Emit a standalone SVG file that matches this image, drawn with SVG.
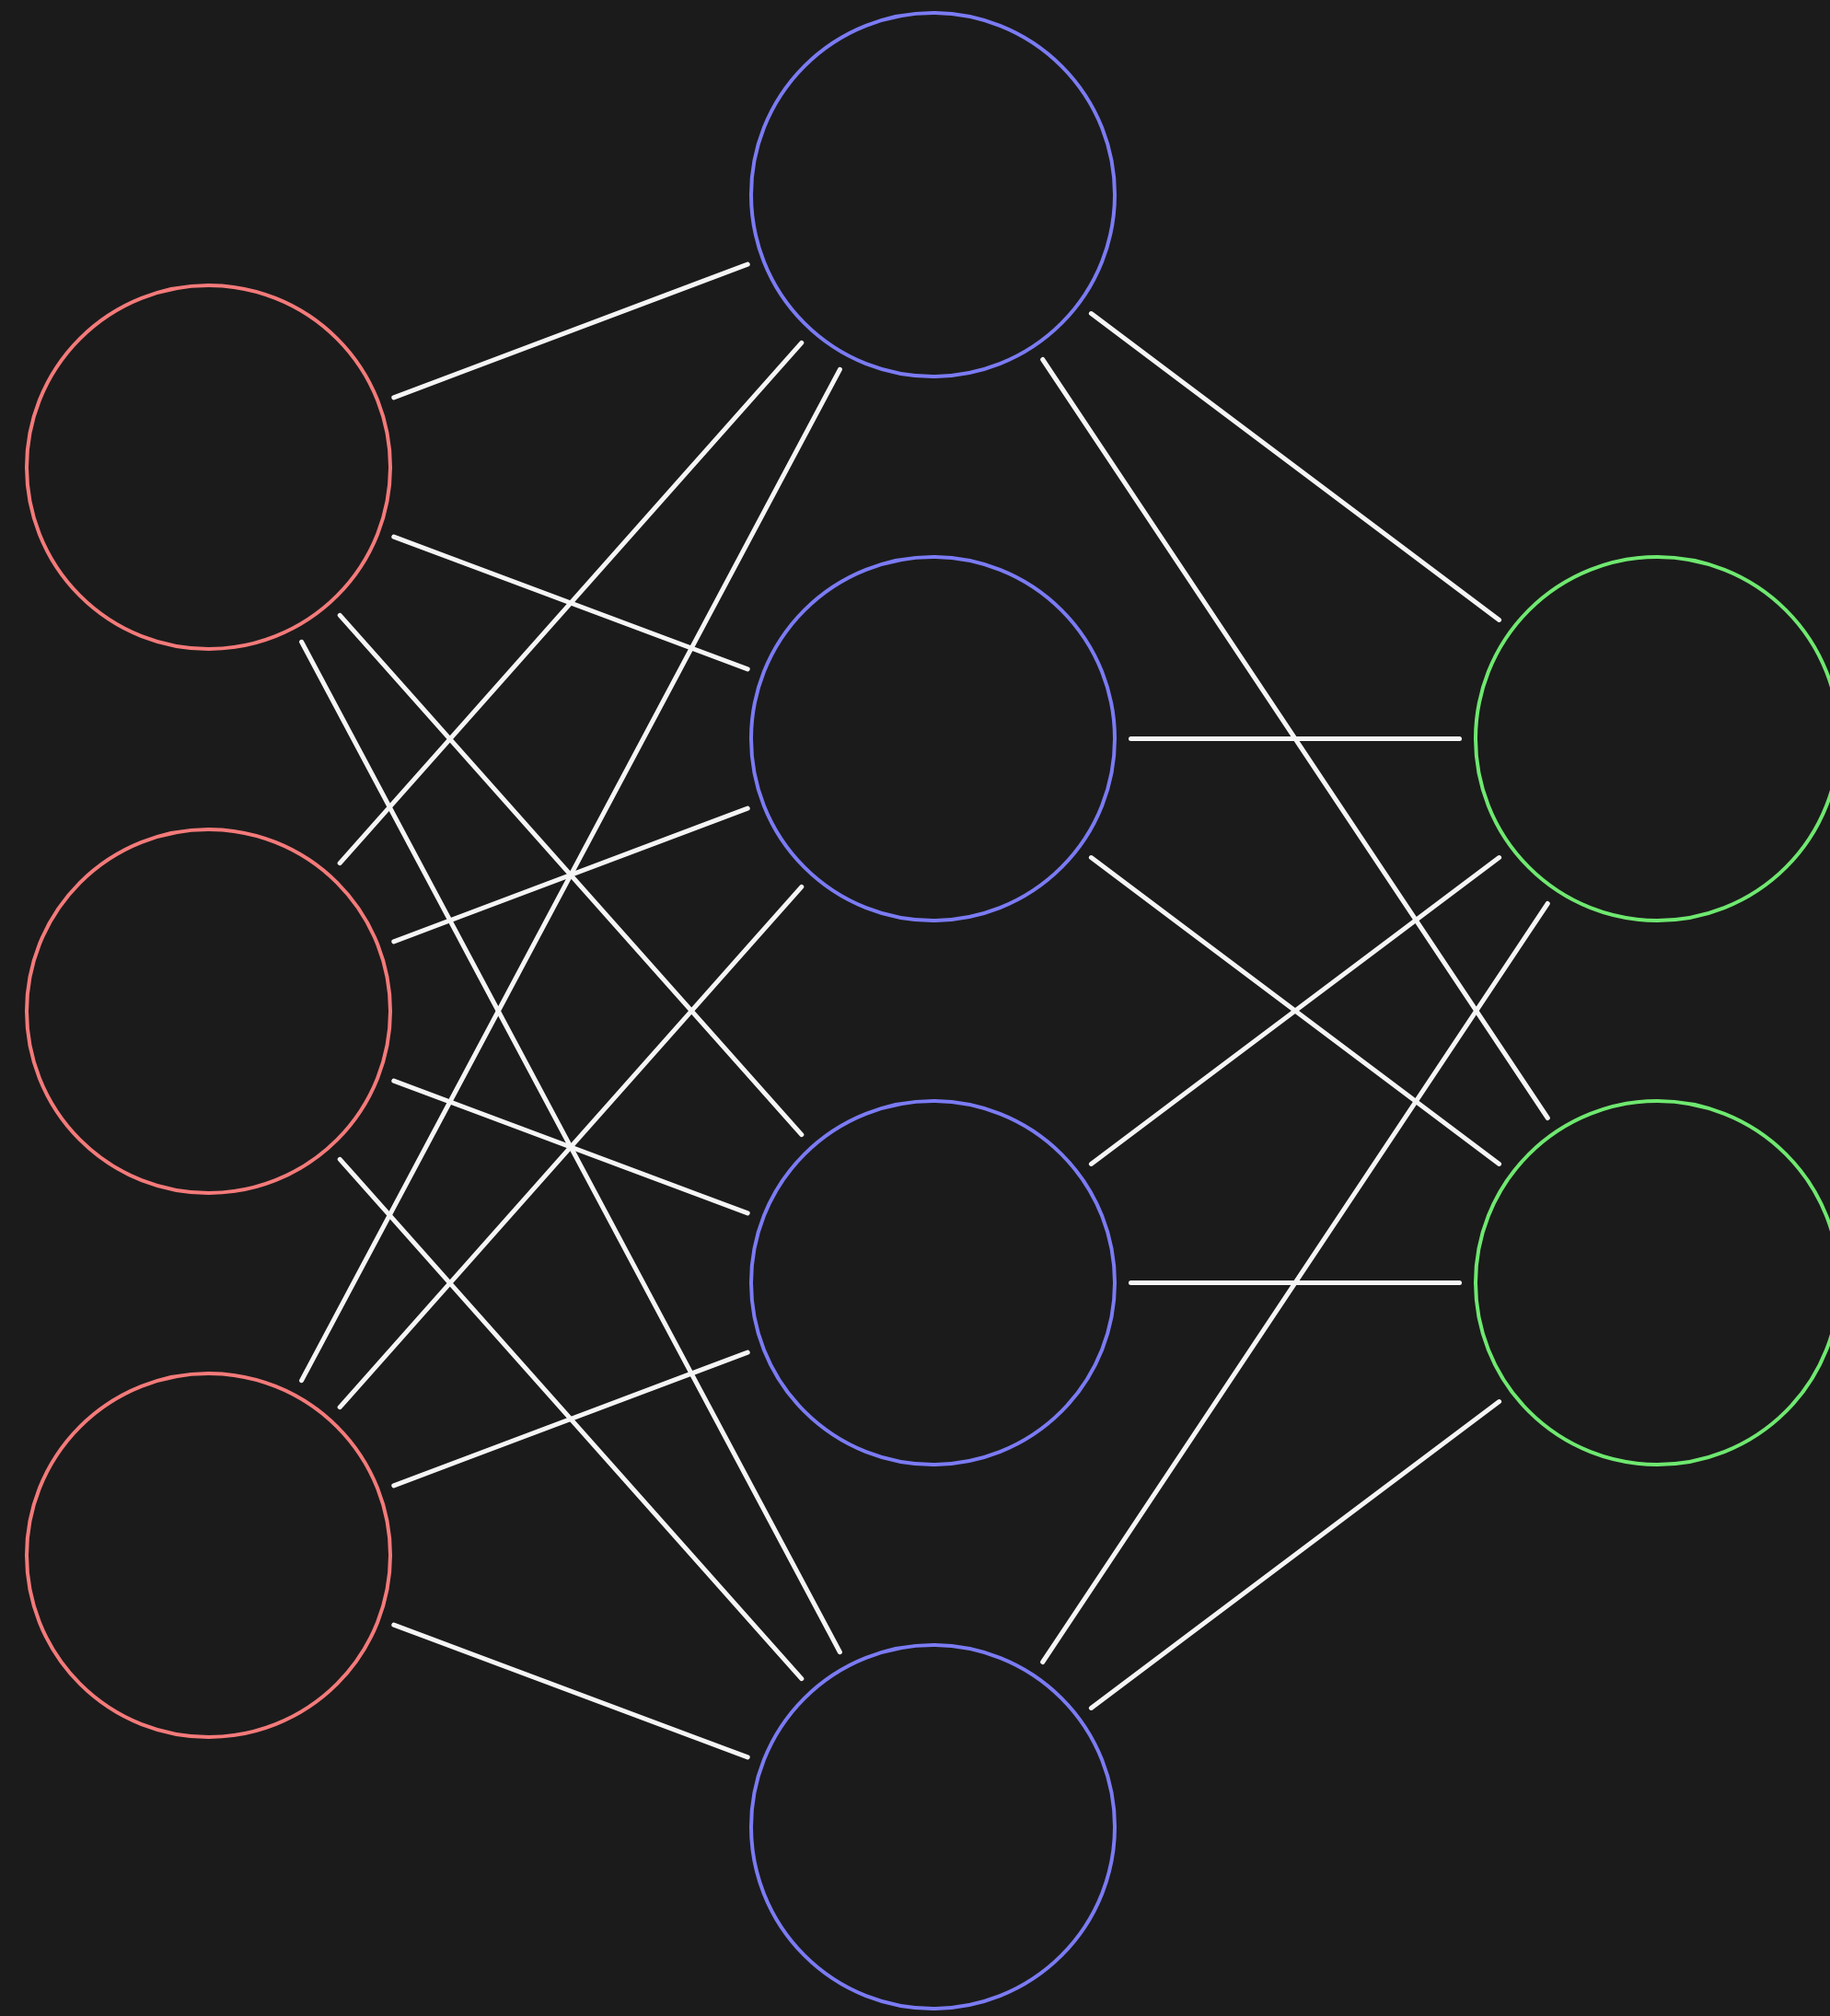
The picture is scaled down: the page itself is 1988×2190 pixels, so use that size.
<svg xmlns="http://www.w3.org/2000/svg" width="1988" height="2190" viewBox="0 0 1988 2190">
<style>
.n{fill:#1b1b1b;stroke-width:4}
.in{stroke:#f47a7a}
.hid{stroke:#7b7bf4}
.out{stroke:#6fe870}
#edges line{stroke:#f5f5f5;stroke-width:5;stroke-linecap:round}
</style>
<rect width="1988" height="2190" fill="#1b1b1b"/>
<g id="edges">
<line x1="427.8" y1="431.9" x2="812.2" y2="287.1"/>
<line x1="427.8" y1="583.1" x2="812.2" y2="726.9"/>
<line x1="369.2" y1="668.3" x2="870.8" y2="1232.7"/>
<line x1="327.6" y1="697.3" x2="912.4" y2="1794.7"/>
<line x1="369.2" y1="937.7" x2="870.8" y2="372.3"/>
<line x1="427.8" y1="1022.9" x2="812.2" y2="878.1"/>
<line x1="427.8" y1="1174.1" x2="812.2" y2="1317.9"/>
<line x1="369.2" y1="1259.3" x2="870.8" y2="1823.7"/>
<line x1="327.6" y1="1499.7" x2="912.4" y2="401.3"/>
<line x1="369.2" y1="1528.7" x2="870.8" y2="963.3"/>
<line x1="427.8" y1="1613.9" x2="812.2" y2="1469.1"/>
<line x1="427.8" y1="1765.1" x2="812.2" y2="1908.9"/>
<line x1="1185.4" y1="340.6" x2="1628.6" y2="673.4"/>
<line x1="1132.7" y1="390.5" x2="1681.3" y2="1214.5"/>
<line x1="1228.5" y1="802.5" x2="1585.5" y2="802.5"/>
<line x1="1185.4" y1="931.6" x2="1628.6" y2="1264.4"/>
<line x1="1185.4" y1="1264.4" x2="1628.6" y2="931.6"/>
<line x1="1228.5" y1="1393.5" x2="1585.5" y2="1393.5"/>
<line x1="1132.7" y1="1805.5" x2="1681.3" y2="981.5"/>
<line x1="1185.4" y1="1855.4" x2="1628.6" y2="1522.6"/>
</g>
<g id="input1"><circle class="n in" cx="226.5" cy="507.5" r="197.5"/></g>
<g id="input2"><circle class="n in" cx="226.5" cy="1098.5" r="197.5"/></g>
<g id="input3"><circle class="n in" cx="226.5" cy="1689.5" r="197.5"/></g>
<g id="hidden1"><circle class="n hid" cx="1013.5" cy="211.5" r="197.5"/></g>
<g id="hidden2"><circle class="n hid" cx="1013.5" cy="802.5" r="197.5"/></g>
<g id="hidden3"><circle class="n hid" cx="1013.5" cy="1393.5" r="197.5"/></g>
<g id="hidden4"><circle class="n hid" cx="1013.5" cy="1984.5" r="197.5"/></g>
<g id="output1"><circle class="n out" cx="1800.5" cy="802.5" r="197.5"/></g>
<g id="output2"><circle class="n out" cx="1800.5" cy="1393.5" r="197.5"/></g>
</svg>
